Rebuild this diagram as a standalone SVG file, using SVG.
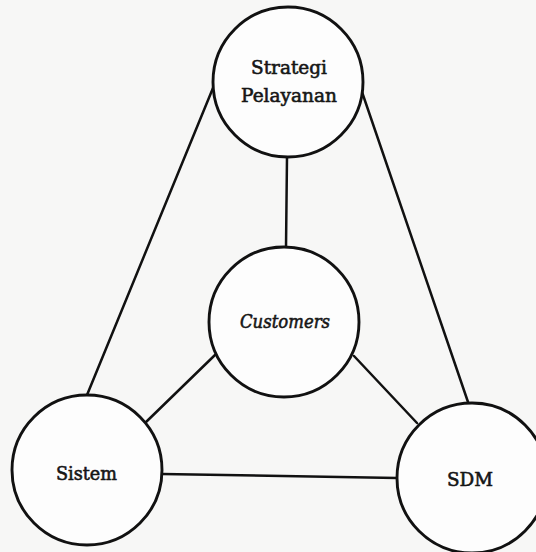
<svg xmlns="http://www.w3.org/2000/svg" width="536" height="552" viewBox="0 0 536 552">
<style>
.node circle{fill:#fdfdfd;stroke:#111;stroke-width:2.9}
.conn line{stroke:#111;stroke-width:2.5;stroke-linecap:round}
text{font-family:"DejaVu Serif","Liberation Serif",serif;font-size:18.5px;fill:#161616;stroke:#161616;stroke-width:0.6;text-anchor:middle}
</style>
<rect width="536" height="552" fill="#f7f7f6"/>
<g id="connectors" class="conn">
<line x1="213" y1="88" x2="87" y2="395"/>
<line x1="362" y1="92" x2="468" y2="402"/>
<line x1="287" y1="157" x2="286" y2="247"/>
<line x1="215" y1="355" x2="145" y2="423"/>
<line x1="354" y1="356" x2="417" y2="423"/>
<line x1="162" y1="474" x2="397" y2="478"/>
</g>
<g id="strategi" class="node">
<circle cx="288" cy="82" r="75"/>
<text x="289" y="74" textLength="76" lengthAdjust="spacingAndGlyphs">Strategi</text>
<text x="289" y="102" textLength="96" lengthAdjust="spacingAndGlyphs">Pelayanan</text>
</g>
<g id="customers" class="node">
<circle cx="284" cy="322" r="75"/>
<text x="285" y="328" font-style="italic" textLength="90" lengthAdjust="spacingAndGlyphs">Customers</text>
</g>
<g id="sistem" class="node">
<circle cx="87" cy="470" r="75"/>
<text x="86.5" y="480" textLength="61" lengthAdjust="spacingAndGlyphs">Sistem</text>
</g>
<g id="sdm" class="node">
<circle cx="472" cy="478" r="75"/>
<text x="470" y="486" textLength="46" lengthAdjust="spacingAndGlyphs">SDM</text>
</g>
</svg>
